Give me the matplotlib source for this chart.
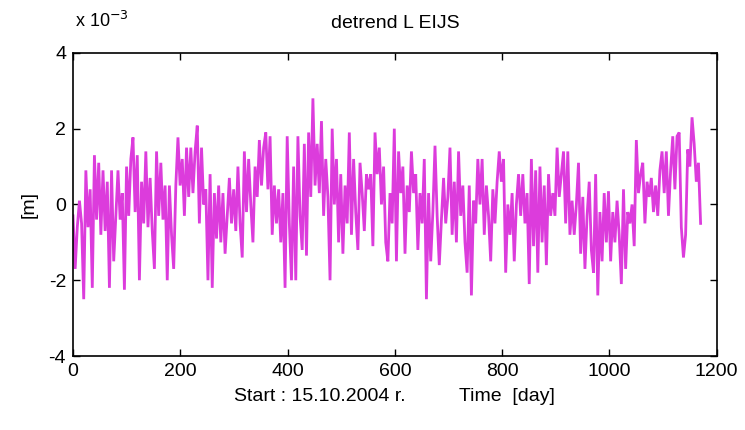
import numpy as np
import matplotlib
matplotlib.use('Agg')
import matplotlib.pyplot as plt

# detrended L component, in units of 1e-3 m, read every ~4 days
detrend_l = [
    -0.3, -1.7, -0.6, 0.1, -0.5, -2.5, 0.9, -0.6, 0.4, -2.2,
    1.3, -0.4, 1.1, -0.8, 0.9, -0.7, 0.6, -2.2, 0.9, -1.5,
    -0.3, 0.9, -0.4, 0.3, -2.25, 1.0, -0.3, 1.2, 1.77, -0.2,
    1.3, -2.0, 0.6, -0.5, 1.4, -0.6, 0.7, -0.7, -1.7, 1.4,
    -0.3, 1.1, -0.4, 0.5, -2.0, 0.5, -0.8, -1.7, 0.5, 1.77,
    0.5, 1.2, -0.3, 1.5, 0.2, 1.5, 0.3, 1.4, 2.08, -0.5,
    1.5, 0.0, 0.4, -2.0, 0.8, -2.2, 0.3, -0.9, 0.5, -1.0,
    0.3, -1.3, -0.3, 0.7, -0.5, 0.4, -0.7, 1.0, -0.5, -1.4,
    1.4, -0.2, 1.2, 0.0, -1.0, 1.0, 0.2, 1.7, 0.5, 1.5,
    1.9, 0.4, 1.8, -0.8, 0.5, -0.5, 0.4, -1.0, 0.3, -2.2,
    1.8, -0.5, -2.0, 1.0, -2.0, 1.8, -0.3, -1.2, 1.6, -1.35,
    1.9, 0.2, 2.8, 0.5, 1.6, 0.3, 2.2, -0.3, 1.2, 0.2,
    -2.0, 2.0, 0.0, 1.2, -1.0, 0.8, -1.3, 0.5, -0.5, 1.9,
    -0.8, 1.2, -0.2, -1.2, 1.1, 0.3, -0.7, 0.8, 0.4, 0.8,
    -1.1, 1.9, 0.8, 1.5, 0.0, 1.0, -1.0, -1.5, 0.3, -0.5,
    2.0, -1.5, 1.4, 0.3, 1.0, -1.3, 0.5, -0.2, 1.4, 0.3,
    0.8, -1.2, 0.3, -0.5, 1.2, -2.5, 0.3, -1.5, -0.2, 1.55,
    -0.3, -1.6, -0.4, 0.7, -0.5, 0.2, 1.5, -0.8, 0.6, -1.0,
    1.4, -0.3, 0.5, -1.0, -1.8, 0.5, -2.4, 0.1, -0.5, 1.2,
    0.0, 1.2, -0.8, 0.5, -0.3, -1.5, 0.4, -0.5, 0.6, 1.4,
    0.6, 1.2, -1.8, 0.0, -0.8, 0.3, -1.5, 0.0, 0.8, -0.3,
    0.8, -0.5, 0.3, -2.1, 1.2, -1.1, 0.9, -1.8, 1.0, -1.0,
    0.5, -1.6, 0.8, -0.3, 0.3, -0.3, 1.5, 0.2, 0.8, 1.4,
    -0.5, 1.4, -0.8, 0.1, -0.8, 0.0, 1.1, -1.3, 0.2, -1.7,
    -0.3, 0.6, -1.2, -1.8, 0.8, -2.4, -0.2, -1.5, 0.3, -1.0,
    0.35, -1.5, -0.2, -1.0, 0.1, -0.8, -2.1, 0.4, -1.7, -0.2,
    -0.5, 0.0, -1.1, 1.7, 0.3, 0.8, 1.1, -0.5, 0.6, 0.2,
    0.7, -0.2, 0.5, -0.3, 0.9, 1.4, 0.3, 1.4, -0.3, 0.9,
    1.8, 0.4, 1.8, 1.9, -0.6, -1.4, -0.8, 1.45, 1.0, 2.3,
    1.6, 0.6, 1.1, -0.5,
]
last_day = 1170
xticks = [0, 200, 400, 600, 800, 1000, 1200]
yticks = [-4, -2, 0, 2, 4]

plt.rcParams['font.family'] = ['Liberation Sans', 'DejaVu Sans']
plt.rcParams['axes.unicode_minus'] = False

fig = plt.figure(figsize=(7.45, 4.30), dpi=100)
ax = fig.add_axes([0.098, 0.172, 0.864, 0.705])

days = np.linspace(0, last_day, len(detrend_l))
ax.plot(days, detrend_l, color='#dc3cdc', lw=2.0, solid_joinstyle='miter')

ax.set_xlim(0, 1200)
ax.set_ylim(-4, 4)
ax.set_xticks(xticks)
ax.set_yticks(yticks)
ax.tick_params(direction='in', top=True, right=True, length=5, width=1,
               labelsize=14, pad=5)
for s in ax.spines.values():
    s.set_linewidth(1.2)

fig.text(0.53, 0.945, 'detrend L EIJS', fontsize=14, ha='center', va='center')
fig.text(0.101, 0.952, r'x 10$^{-3}$', fontsize=13, ha='left', va='center')
ax.set_xlabel('Start : 15.10.2004 r.          Time  [day]', fontsize=14, labelpad=6)
ax.set_ylabel('[m]', fontsize=14, labelpad=8)

fig.savefig('out.png', dpi=100)
